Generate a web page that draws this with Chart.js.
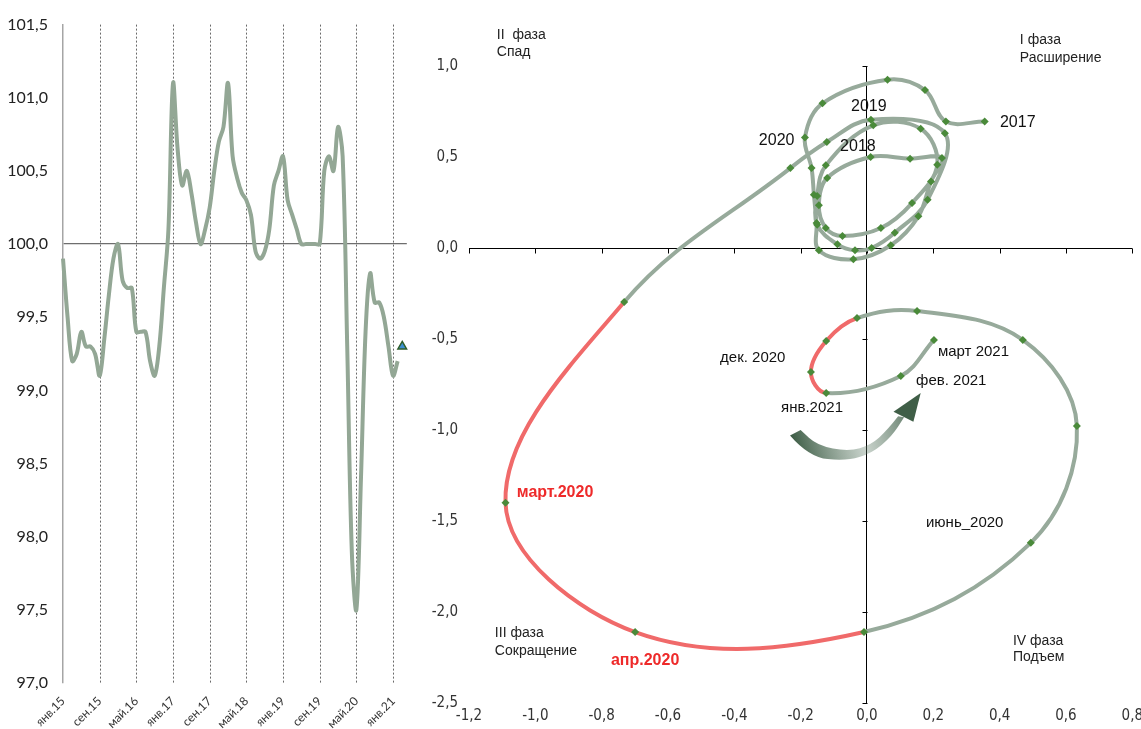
<!DOCTYPE html>
<html>
<head>
<meta charset="utf-8">
<script src="https://cdn.jsdelivr.net/npm/chart.js@4.4.1/dist/chart.umd.min.js"></script>
<style>
  html, body { margin: 0; padding: 0; background: #fff; overflow: hidden; }
  #left { position: absolute; left: 0; top: 0; }
  #right { position: absolute; left: 420px; top: 0; }
</style>
</head>
<body>
<canvas id="left" width="420" height="729"></canvas>
<canvas id="right" width="727" height="729"></canvas>
<script>
// ---- left panel: monthly index, янв.2015 .. фев.2021
const monthNames = ['янв', 'фев', 'мар', 'апр', 'май', 'июн', 'июл', 'авг', 'сен', 'окт', 'ноя', 'дек'];
const tickLabels = ['янв.15', 'сен.15', 'май.16', 'янв.17', 'сен.17', 'май.18', 'янв.19', 'сен.19', 'май.20', 'янв.21'];
const leftValues = [
  99.9, 99.5, 99.2, 99.25, 99.4, 99.3, 99.3, 99.25, 99.1, 99.35, 99.65, 99.9,
  100.0, 99.75, 99.7, 99.7, 99.4, 99.4, 99.4, 99.2, 99.1, 99.3, 99.7, 100.1,
  101.1, 100.65, 100.4, 100.5, 100.35, 100.15, 100.0, 100.1, 100.25, 100.5, 100.7, 100.8,
  101.1, 100.6, 100.45, 100.35, 100.3, 100.2, 99.95, 99.9, 99.95, 100.1, 100.4, 100.5,
  100.6, 100.3, 100.2, 100.1, 100.0, 100.0, 100.0, 100.0, 100.0, 100.5, 100.6, 100.5,
  100.8, 100.6, 99.3, 97.9, 97.5, 98.4, 99.4, 99.8, 99.6, 99.6, 99.5, 99.3,
  99.1, 99.2
];
const forecastIndex = 74;
const forecastValue = 99.3;

// ---- right panel: cycle tracker, янв.2017 .. март 2021
const trackX = [
  0.355, 0.238, 0.175, 0.062, -0.134, -0.187, -0.167, -0.16, -0.152, -0.145, -0.041, 0.072,
  0.155, 0.193, 0.226, 0.13, 0.011, -0.12, -0.145, -0.124, -0.074, 0.042, 0.136, 0.212,
  0.162, 0.019, -0.124, -0.15, -0.15, -0.089, -0.036, 0.014, 0.084, 0.183, 0.235, 0.012,
  -0.121, -0.231,
  -0.732, -1.09, -0.699, -0.009, 0.494, 0.633, 0.47, 0.151, -0.03, -0.123, -0.169, -0.123,
  0.102, 0.202
];
const trackY = [
  0.695, 0.695, 0.868, 0.925, 0.795, 0.607, 0.439, 0.293, 0.137, -0.013, -0.062, 0.015,
  0.174, 0.366, 0.495, 0.491, 0.5, 0.385, 0.235, 0.11, 0.066, 0.11, 0.247, 0.458,
  0.655, 0.674, 0.454, 0.286, 0.128, 0.02, -0.013, 0.0, 0.084, 0.265, 0.63, 0.705,
  0.582, 0.439,
  -0.297, -1.4, -2.11, -2.11, -1.62, -0.978, -0.505, -0.346, -0.385, -0.511, -0.681, -0.797,
  -0.703, -0.505
];
// segments drawn in red (index of the segment's first point)
const redSegmentStarts = [38, 39, 40, 46, 47, 48];

const fmt = v => (Math.round(v * 10) / 10).toFixed(1).replace('.', ',');

const leftLabels = [];
for (let i = 0; i < 76; i++) {
  leftLabels.push(monthNames[i % 12] + '.' + (15 + Math.floor(i / 12)));
}
const forecastData = leftLabels.map((_, i) => (i === forecastIndex ? forecastValue : null));

// dotted verticals at the labelled months
const dottedMonths = {
  id: 'dottedMonths',
  beforeDatasetsDraw(chart) {
    const { ctx, chartArea, scales: { x } } = chart;
    ctx.save();
    ctx.strokeStyle = '#6a6a6a';
    ctx.lineWidth = 1;
    ctx.setLineDash([2, 2]);
    ctx.beginPath();
    tickLabels.forEach(lbl => {
      const i = leftLabels.indexOf(lbl);
      if (i <= 0) return;
      const px = Math.round(x.getPixelForValue(i)) + 0.5;
      ctx.moveTo(px, chartArea.top);
      ctx.lineTo(px, chartArea.bottom);
    });
    ctx.stroke();
    ctx.restore();
  }
};

new Chart(document.getElementById('left'), {
  type: 'line',
  data: {
    labels: leftLabels,
    datasets: [
      {
        data: leftValues,
        borderColor: '#93a795',
        borderWidth: 4,
        pointRadius: 0,
        tension: 0.35,
        fill: false
      },
      {
        data: forecastData,
        showLine: false,
        pointStyle: 'triangle',
        pointRadius: 5,
        backgroundColor: '#3c90d0',
        borderColor: '#2f5e2a',
        borderWidth: 1.5
      }
    ]
  },
  options: {
    responsive: false,
    animation: false,
    layout: { padding: { top: 22, right: 8, left: 0, bottom: 0 } },
    plugins: { legend: { display: false }, tooltip: { enabled: false } },
    scales: {
      x: {
        ticks: {
          autoSkip: false,
          minRotation: 45,
          maxRotation: 45,
          padding: 3,
          color: '#333',
          font: { family: 'Lato, "Liberation Sans", sans-serif', size: 12 },
          callback: (v, i) => (tickLabels.includes(leftLabels[i]) ? leftLabels[i] : '')
        },
        grid: { display: false },
        border: { display: false },
        afterFit: s => { s.height = 46; }
      },
      y: {
        min: 97,
        max: 101.5,
        ticks: {
          stepSize: 0.5,
          padding: 15,
          color: '#222',
          font: { family: 'Lato, "Liberation Sans", sans-serif', size: 16 },
          callback: fmt
        },
        grid: {
          drawTicks: false,
          lineWidth: 1.2,
          color: c => (c.tick && Math.abs(c.tick.value - 100) < 1e-9 ? '#6e6e6e' : 'transparent')
        },
        border: { color: '#a5a5a5', width: 1.5 },
        afterFit: s => { s.width = 63; }
      }
    }
  },
  plugins: [dottedMonths]
});

// tick marks along the axes that cross at the origin
const crossTicks = {
  id: 'crossTicks',
  beforeDatasetsDraw(chart) {
    const { ctx, scales: { x, y } } = chart;
    const x0 = Math.round(x.getPixelForValue(0)) + 0.5;
    const y0 = Math.round(y.getPixelForValue(0)) + 0.5;
    ctx.save();
    ctx.strokeStyle = '#000';
    ctx.lineWidth = 1;
    ctx.beginPath();
    x.ticks.forEach(t => {
      const px = Math.round(x.getPixelForValue(t.value)) + 0.5;
      ctx.moveTo(px, y0);
      ctx.lineTo(px, y0 + 5);
    });
    y.ticks.forEach(t => {
      const py = Math.round(y.getPixelForValue(t.value)) + 0.5;
      ctx.moveTo(x0 - 5, py);
      ctx.lineTo(x0, py);
    });
    ctx.stroke();
    ctx.restore();
  }
};

// text notes and the curved arrow
const trackNotes = {
  id: 'trackNotes',
  afterDraw(chart) {
    const { ctx, scales: { x, y } } = chart;
    const P = (a, b) => [x.getPixelForValue(a), y.getPixelForValue(b)];

    // arrow: wide tail on the left, thin belly, head pointing up-right
    const outer = [[-0.232, -1.030], [-0.175, -1.150], [-0.061, -1.170], [0.015, -1.128], [0.075, -1.035], [0.112, -0.930]];
    const inner = [[0.094, -0.925], [0.062, -1.000], [0.012, -1.082], [-0.055, -1.118], [-0.150, -1.085], [-0.200, -1.000]];
    const head = [[0.080, -0.900], [0.162, -0.797], [0.140, -0.955]];
    const g0 = P(-0.232, -1.0), g1 = P(0.16, -0.8);
    const grad = ctx.createLinearGradient(g0[0], g0[1], g1[0], g1[1]);
    grad.addColorStop(0, '#3f5e47');
    grad.addColorStop(0.5, 'rgba(100,128,108,0.35)');
    grad.addColorStop(1, '#3f5e47');
    ctx.save();
    ctx.fillStyle = grad;
    ctx.beginPath();
    const pts = outer.concat(inner).map(p => P(p[0], p[1]));
    ctx.moveTo(pts[0][0], pts[0][1]);
    for (let i = 1; i < outer.length - 1; i++) {
      const mx = (pts[i][0] + pts[i + 1][0]) / 2, my = (pts[i][1] + pts[i + 1][1]) / 2;
      ctx.quadraticCurveTo(pts[i][0], pts[i][1], mx, my);
    }
    ctx.lineTo(pts[outer.length - 1][0], pts[outer.length - 1][1]);
    ctx.lineTo(pts[outer.length][0], pts[outer.length][1]);
    for (let i = outer.length + 1; i < pts.length - 1; i++) {
      const mx = (pts[i][0] + pts[i + 1][0]) / 2, my = (pts[i][1] + pts[i + 1][1]) / 2;
      ctx.quadraticCurveTo(pts[i][0], pts[i][1], mx, my);
    }
    ctx.lineTo(pts[pts.length - 1][0], pts[pts.length - 1][1]);
    ctx.closePath();
    ctx.fill();
    ctx.fillStyle = '#3f5e47';
    ctx.beginPath();
    head.forEach((p, i) => {
      const q = P(p[0], p[1]);
      if (i === 0) ctx.moveTo(q[0], q[1]); else ctx.lineTo(q[0], q[1]);
    });
    ctx.closePath();
    ctx.fill();
    ctx.restore();

    const serif = '"Liberation Sans", Arial, sans-serif';
    const narrow = '"Liberation Sans Narrow", "Liberation Sans", sans-serif';
    const notes = [
      { t: '2017', x: 0.401, y: 0.689, f: '16px ' + serif, c: '#111' },
      { t: '2019', x: -0.048, y: 0.777, f: '16px ' + serif, c: '#111' },
      { t: '2018', x: -0.081, y: 0.558, f: '16px ' + serif, c: '#111' },
      { t: '2020', x: -0.326, y: 0.590, f: '16px ' + serif, c: '#111' },
      { t: 'дек. 2020', x: -0.443, y: -0.605, f: '15px ' + serif, c: '#111' },
      { t: 'март 2021', x: 0.214, y: -0.572, f: '15px ' + serif, c: '#111' },
      { t: 'фев. 2021', x: 0.148, y: -0.731, f: '15px ' + serif, c: '#111' },
      { t: 'янв.2021', x: -0.259, y: -0.879, f: '15px ' + serif, c: '#111' },
      { t: 'июнь_2020', x: 0.178, y: -1.509, f: '15px ' + narrow, c: '#111' },
      { t: 'март.2020', x: -1.056, y: -1.345, f: 'bold 16px ' + narrow, c: '#ee2a2a' },
      { t: 'апр.2020', x: -0.772, y: -2.266, f: 'bold 16px ' + narrow, c: '#ee2a2a' },
      { t: 'II  фаза', x: -1.116, y: 1.172, f: '14px ' + serif, c: '#222' },
      { t: 'Спад', x: -1.116, y: 1.078, f: '14px ' + serif, c: '#222' },
      { t: 'I фаза', x: 0.461, y: 1.144, f: '14px ' + serif, c: '#222' },
      { t: 'Расширение', x: 0.461, y: 1.045, f: '14px ' + serif, c: '#222' },
      { t: 'III фаза', x: -1.122, y: -2.118, f: '14px ' + narrow, c: '#222' },
      { t: 'Сокращение', x: -1.122, y: -2.217, f: '14px ' + narrow, c: '#222' },
      { t: 'IV фаза', x: 0.440, y: -2.161, f: '14px ' + narrow, c: '#222' },
      { t: 'Подъем', x: 0.440, y: -2.249, f: '14px ' + narrow, c: '#222' }
    ];
    ctx.save();
    ctx.textAlign = 'left';
    ctx.textBaseline = 'middle';
    notes.forEach(n => {
      ctx.font = n.f;
      ctx.fillStyle = n.c;
      const p = P(n.x, n.y);
      ctx.fillText(n.t, p[0], p[1]);
    });
    ctx.restore();
  }
};

const trackPoints = trackX.map((v, i) => ({ x: v, y: trackY[i] }));
const grayLine = '#97aa9b';
const redLine = '#f06a6a';
const axisFont = { family: '"Liberation Sans Narrow", "DejaVu Sans Condensed", "Liberation Sans", sans-serif', size: 15 };

new Chart(document.getElementById('right'), {
  type: 'scatter',
  data: {
    datasets: [{
      data: trackPoints,
      showLine: true,
      tension: 0.37,
      borderWidth: 4,
      borderColor: grayLine,
      segment: {
        borderColor: c => (redSegmentStarts.includes(c.p0DataIndex) ? redLine : grayLine)
      },
      pointStyle: 'rectRot',
      pointRadius: 4,
      pointBorderWidth: 0,
      pointBackgroundColor: '#4a8a3a',
      pointBorderColor: '#4a8a3a'
    }]
  },
  options: {
    responsive: false,
    animation: false,
    layout: { padding: { top: 66, right: 4, left: 0, bottom: 0 } },
    plugins: { legend: { display: false }, tooltip: { enabled: false } },
    scales: {
      x: {
        type: 'linear',
        min: -1.2,
        max: 0.8,
        ticks: { stepSize: 0.2, padding: 4, color: '#333', font: axisFont, callback: fmt },
        grid: {
          drawTicks: false,
          lineWidth: 1,
          color: c => (c.tick && Math.abs(c.tick.value) < 1e-9 ? '#000' : 'transparent')
        },
        border: { display: false },
        afterFit: s => { s.height = 26; }
      },
      y: {
        min: -2.5,
        max: 1,
        ticks: { stepSize: 0.5, padding: 11, color: '#333', font: axisFont, callback: fmt },
        grid: {
          drawTicks: false,
          lineWidth: 1,
          color: c => (c.tick && Math.abs(c.tick.value) < 1e-9 ? '#000' : 'transparent')
        },
        border: { display: false },
        afterFit: s => { s.width = 49; }
      }
    }
  },
  plugins: [crossTicks, trackNotes]
});
</script>
</body>
</html>
